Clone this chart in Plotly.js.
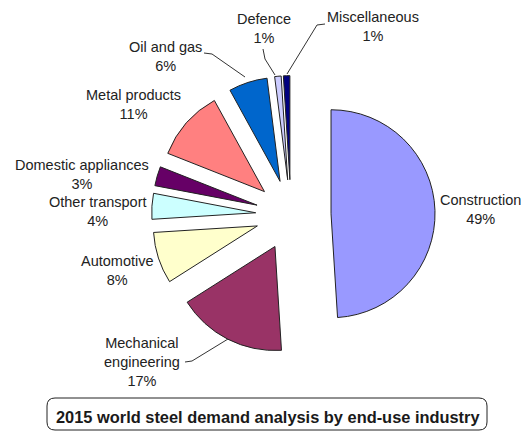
<!DOCTYPE html>
<html>
<head>
<meta charset="utf-8">
<script src="https://cdn.plot.ly/plotly-3.0.1.min.js"></script>
<style>
  html, body { margin: 0; padding: 0; background: #fff; }
  #chart { width: 521px; height: 431px; }
</style>
</head>
<body>
<div id="chart"></div>
<script>
// ---- data ----
const categories = ["Construction", "Mechanical engineering", "Automotive", "Other transport",
                    "Domestic appliances", "Metal products", "Oil and gas", "Defence", "Miscellaneous"];
const shares = [49, 17, 8, 4, 3, 11, 6, 1, 1];
const labelTexts = ["Construction", "Mechanical<br>engineering", "Automotive", "Other transport",
                    "Domestic appliances", "Metal products", "Oil and gas", "Defence", "Miscellaneous"];
const chartTitle = "2015 world steel demand analysis by end-use industry";

// ---- styles / positions ----
const colors = ["#9999FF", "#993366", "#FFFFCC", "#CCFFFF", "#660066", "#FF8080", "#0066CC", "#CCCCFF", "#000080"];
const pulls = [0.385, 0.34, 0.34, 0.34, 0.34, 0.34, 0.34, 0.34, 0.34];
const W = 521, H = 431;
// label centre positions in pixels
const labelPos = [[480, 209.5], [142, 362], [117, 270], [98, 211.5], [82, 174], [133, 104], [165, 56.5], [264, 28.5], [373, 26]];
// leader lines (pixel polylines)
const leaders = [
  [[204, 53], [212, 54], [245, 77]],
  [[263, 49], [265, 59], [275, 75]],
  [[325, 24], [317, 25], [287, 74]],
  [[185, 362], [192, 361], [228, 339]]
];

const px = (x) => x / W;
const py = (y) => 1 - y / H;

const annotations = categories.map((c, i) => ({
  text: labelTexts[i] + "<br>" + shares[i] + "%",
  x: px(labelPos[i][0]), y: py(labelPos[i][1]),
  xref: "paper", yref: "paper", xanchor: "center", yanchor: "middle",
  showarrow: false, align: "center",
  font: { family: "Arial, 'Liberation Sans', sans-serif", size: 14.5, color: "#222" }
}));
annotations.push({
  text: "<b>" + chartTitle + "</b>",
  x: px(268), y: py(416.5), xref: "paper", yref: "paper",
  xanchor: "center", yanchor: "middle", showarrow: false,
  font: { family: "Arial, 'Liberation Sans', sans-serif", size: 16.4, color: "#1a1a1a" }
});

const shapes = leaders.map(pts => ({
  type: "path", xref: "paper", yref: "paper",
  path: pts.map((p, k) => (k === 0 ? "M" : "L") + px(p[0]) + "," + py(p[1])).join(" "),
  line: { color: "#333", width: 1 }
}));
// rounded title box
(function () {
  const x0 = 47, x1 = 487, y0 = 398, y1 = 430, r = 8;
  const P = (x, y) => px(x) + "," + py(y);
  const d = "M" + P(x0 + r, y0) + " L" + P(x1 - r, y0) + " Q" + P(x1, y0) + " " + P(x1, y0 + r) +
            " L" + P(x1, y1 - r) + " Q" + P(x1, y1) + " " + P(x1 - r, y1) +
            " L" + P(x0 + r, y1) + " Q" + P(x0, y1) + " " + P(x0, y1 - r) +
            " L" + P(x0, y0 + r) + " Q" + P(x0, y0) + " " + P(x0 + r, y0) + " Z";
  shapes.push({ type: "path", xref: "paper", yref: "paper", path: d, line: { color: "#222", width: 1 } });
})();

// pie centre (291,215), radius 104 -> half box = 104*(1+maxPull)
const cx = 291, cy = 215, R = 104;
const half = R * (1 + Math.max(...pulls));

const trace = {
  type: "pie",
  labels: categories,
  values: shares,
  sort: false,
  direction: "clockwise",
  rotation: 0,
  pull: pulls,
  textinfo: "none",
  hoverinfo: "label+percent",
  marker: { colors: colors, line: { color: "#222", width: 1 } },
  domain: { x: [px(cx - half), px(cx + half)], y: [py(cy + half), py(cy - half)] },
  showlegend: false
};

const layout = {
  width: W, height: H,
  margin: { l: 0, r: 0, t: 0, b: 0 },
  paper_bgcolor: "#fff",
  showlegend: false,
  annotations: annotations,
  shapes: shapes
};

Plotly.newPlot("chart", [trace], layout, { displayModeBar: false, staticPlot: true });
</script>
</body>
</html>
